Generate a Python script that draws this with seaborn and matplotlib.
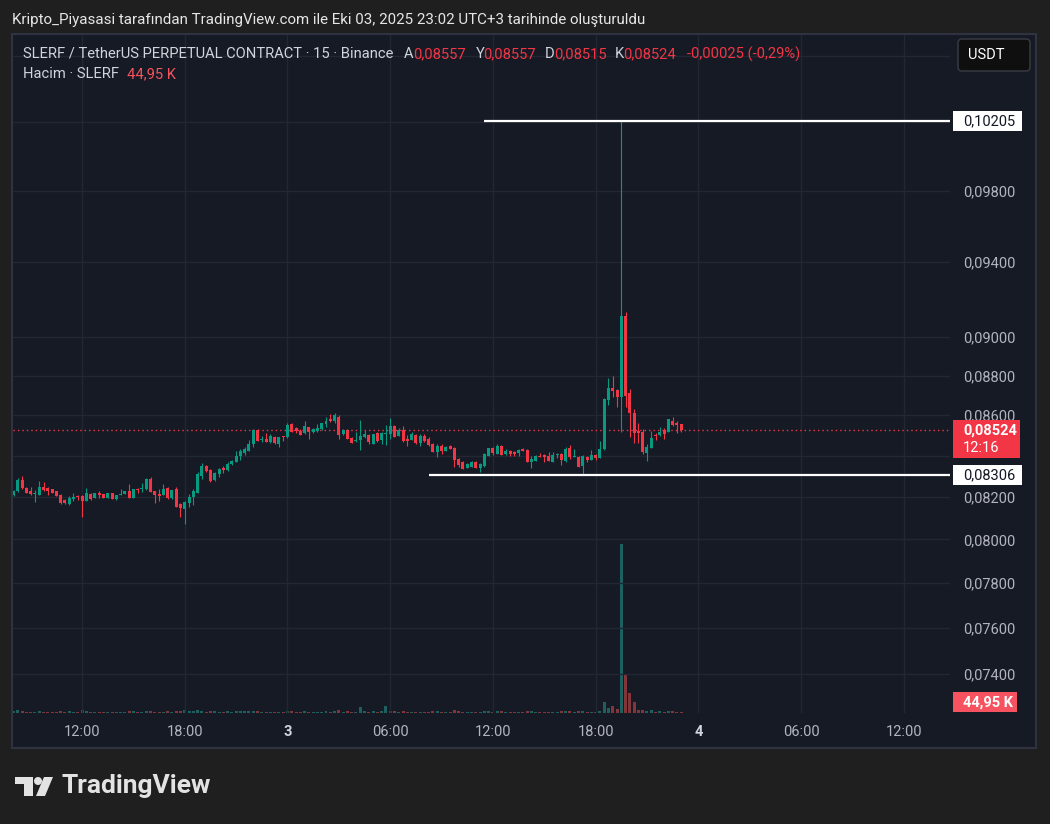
import matplotlib
matplotlib.use('Agg')
import matplotlib.pyplot as plt
import matplotlib.dates as mdates
import pandas as pd
import seaborn as sns
from matplotlib.patches import Rectangle, FancyBboxPatch, Circle, Polygon
from matplotlib.transforms import IdentityTransform
from matplotlib.ticker import FixedLocator, FixedFormatter, NullLocator

# --- Datos: SLERF/USDT perpetual, velas de 15 min (Binance) ---
first_bar = '2025-10-02 08:00'

opens = [
    0.08209, 0.08228, 0.08281, 0.08243, 0.08228, 0.08214, 0.08209, 0.08247, 0.08243, 0.08238,
    0.08228, 0.08209, 0.08185, 0.08166, 0.08190, 0.08204, 0.08204, 0.08180, 0.08214, 0.08195,
    0.08218, 0.08214, 0.08195, 0.08218, 0.08190, 0.08209, 0.08214, 0.08228, 0.08195, 0.08238,
    0.08238, 0.08238, 0.08286, 0.08228, 0.08214, 0.08209, 0.08243, 0.08195, 0.08238, 0.08166,
    0.08142, 0.08171, 0.08199, 0.08218, 0.08300, 0.08348, 0.08329, 0.08281, 0.08310, 0.08339,
    0.08329, 0.08358, 0.08368, 0.08397, 0.08412, 0.08422, 0.08456, 0.08525, 0.08476, 0.08481,
    0.08466, 0.08491, 0.08456, 0.08496, 0.08491, 0.08555, 0.08535, 0.08520, 0.08510, 0.08540,
    0.08515, 0.08520, 0.08530, 0.08555, 0.08580, 0.08570, 0.08590, 0.08505, 0.08525, 0.08486,
    0.08471, 0.08476, 0.08491, 0.08500, 0.08456, 0.08510, 0.08476, 0.08505, 0.08505, 0.08545,
    0.08496, 0.08525, 0.08481, 0.08476, 0.08500, 0.08461, 0.08496, 0.08481, 0.08456, 0.08417,
    0.08446, 0.08422, 0.08446, 0.08436, 0.08383, 0.08368, 0.08339, 0.08344, 0.08368, 0.08339,
    0.08348, 0.08397, 0.08436, 0.08407, 0.08446, 0.08407, 0.08422, 0.08417, 0.08412, 0.08431,
    0.08426, 0.08368, 0.08373, 0.08397, 0.08402, 0.08397, 0.08368, 0.08402, 0.08407, 0.08373,
    0.08436, 0.08392, 0.08392, 0.08348, 0.08392, 0.08378, 0.08402, 0.08388, 0.08431, 0.08675,
    0.08736, 0.08726, 0.08690, 0.09110, 0.08710, 0.08610, 0.08520, 0.08515, 0.08412, 0.08436,
    0.08500, 0.08500, 0.08525, 0.08515, 0.08570, 0.08560, 0.08557,
]
highs = [
    0.08233, 0.08291, 0.08300, 0.08247, 0.08247, 0.08233, 0.08276, 0.08272, 0.08247, 0.08238,
    0.08228, 0.08214, 0.08190, 0.08204, 0.08218, 0.08209, 0.08209, 0.08243, 0.08218, 0.08218,
    0.08228, 0.08214, 0.08218, 0.08218, 0.08209, 0.08238, 0.08228, 0.08262, 0.08238, 0.08243,
    0.08267, 0.08291, 0.08295, 0.08228, 0.08238, 0.08262, 0.08247, 0.08233, 0.08247, 0.08171,
    0.08180, 0.08214, 0.08238, 0.08320, 0.08363, 0.08353, 0.08334, 0.08320, 0.08339, 0.08348,
    0.08368, 0.08378, 0.08422, 0.08431, 0.08441, 0.08476, 0.08530, 0.08530, 0.08496, 0.08510,
    0.08505, 0.08496, 0.08491, 0.08496, 0.08560, 0.08560, 0.08540, 0.08530, 0.08570, 0.08540,
    0.08535, 0.08555, 0.08560, 0.08590, 0.08605, 0.08610, 0.08600, 0.08530, 0.08530, 0.08491,
    0.08515, 0.08575, 0.08525, 0.08505, 0.08505, 0.08515, 0.08515, 0.08550, 0.08585, 0.08550,
    0.08535, 0.08545, 0.08500, 0.08515, 0.08505, 0.08505, 0.08505, 0.08491, 0.08461, 0.08456,
    0.08456, 0.08446, 0.08451, 0.08441, 0.08388, 0.08373, 0.08363, 0.08373, 0.08373, 0.08363,
    0.08412, 0.08436, 0.08441, 0.08456, 0.08451, 0.08431, 0.08426, 0.08422, 0.08431, 0.08436,
    0.08431, 0.08397, 0.08402, 0.08412, 0.08407, 0.08417, 0.08417, 0.08412, 0.08412, 0.08441,
    0.08451, 0.08431, 0.08397, 0.08402, 0.08397, 0.08426, 0.08407, 0.08471, 0.08685, 0.08787,
    0.08797, 0.08731, 0.10205, 0.09131, 0.08731, 0.08630, 0.08560, 0.08530, 0.08456, 0.08520,
    0.08510, 0.08540, 0.08535, 0.08580, 0.08590, 0.08570, 0.08557,
]
lows = [
    0.08204, 0.08223, 0.08238, 0.08218, 0.08209, 0.08176, 0.08209, 0.08228, 0.08209, 0.08218,
    0.08204, 0.08166, 0.08166, 0.08161, 0.08180, 0.08185, 0.08105, 0.08180, 0.08185, 0.08195,
    0.08195, 0.08195, 0.08195, 0.08190, 0.08185, 0.08209, 0.08214, 0.08195, 0.08195, 0.08218,
    0.08223, 0.08233, 0.08223, 0.08171, 0.08180, 0.08209, 0.08190, 0.08190, 0.08152, 0.08105,
    0.08072, 0.08152, 0.08161, 0.08218, 0.08286, 0.08320, 0.08272, 0.08276, 0.08295, 0.08315,
    0.08324, 0.08353, 0.08368, 0.08378, 0.08402, 0.08422, 0.08441, 0.08471, 0.08466, 0.08466,
    0.08461, 0.08456, 0.08441, 0.08471, 0.08486, 0.08515, 0.08510, 0.08500, 0.08505, 0.08481,
    0.08510, 0.08515, 0.08525, 0.08540, 0.08565, 0.08560, 0.08481, 0.08500, 0.08481, 0.08461,
    0.08466, 0.08426, 0.08486, 0.08456, 0.08456, 0.08466, 0.08456, 0.08451, 0.08481, 0.08491,
    0.08496, 0.08466, 0.08446, 0.08476, 0.08456, 0.08446, 0.08466, 0.08446, 0.08417, 0.08392,
    0.08407, 0.08422, 0.08431, 0.08344, 0.08344, 0.08334, 0.08339, 0.08344, 0.08339, 0.08320,
    0.08344, 0.08397, 0.08402, 0.08407, 0.08402, 0.08402, 0.08397, 0.08397, 0.08397, 0.08422,
    0.08368, 0.08339, 0.08373, 0.08392, 0.08368, 0.08373, 0.08368, 0.08388, 0.08353, 0.08368,
    0.08383, 0.08392, 0.08344, 0.08306, 0.08368, 0.08378, 0.08378, 0.08388, 0.08426, 0.08650,
    0.08690, 0.08640, 0.08515, 0.08640, 0.08491, 0.08461, 0.08461, 0.08407, 0.08373, 0.08436,
    0.08476, 0.08496, 0.08481, 0.08515, 0.08545, 0.08510, 0.08515,
]
closes = [
    0.08228, 0.08281, 0.08243, 0.08218, 0.08214, 0.08218, 0.08247, 0.08233, 0.08228, 0.08218,
    0.08204, 0.08171, 0.08171, 0.08195, 0.08199, 0.08199, 0.08180, 0.08218, 0.08190, 0.08218,
    0.08209, 0.08195, 0.08218, 0.08190, 0.08209, 0.08216, 0.08228, 0.08195, 0.08238, 0.08233,
    0.08243, 0.08286, 0.08223, 0.08209, 0.08204, 0.08238, 0.08195, 0.08233, 0.08152, 0.08147,
    0.08176, 0.08199, 0.08228, 0.08310, 0.08348, 0.08324, 0.08276, 0.08315, 0.08334, 0.08329,
    0.08358, 0.08373, 0.08397, 0.08422, 0.08431, 0.08456, 0.08525, 0.08471, 0.08481, 0.08466,
    0.08496, 0.08461, 0.08491, 0.08491, 0.08550, 0.08515, 0.08520, 0.08500, 0.08545, 0.08515,
    0.08530, 0.08535, 0.08560, 0.08570, 0.08570, 0.08600, 0.08500, 0.08525, 0.08481, 0.08461,
    0.08476, 0.08496, 0.08505, 0.08466, 0.08505, 0.08471, 0.08510, 0.08510, 0.08545, 0.08491,
    0.08525, 0.08471, 0.08471, 0.08505, 0.08461, 0.08496, 0.08471, 0.08451, 0.08417, 0.08446,
    0.08422, 0.08441, 0.08431, 0.08378, 0.08353, 0.08334, 0.08358, 0.08368, 0.08339, 0.08358,
    0.08407, 0.08436, 0.08412, 0.08446, 0.08402, 0.08422, 0.08407, 0.08407, 0.08426, 0.08422,
    0.08368, 0.08383, 0.08397, 0.08392, 0.08392, 0.08373, 0.08402, 0.08407, 0.08378, 0.08431,
    0.08392, 0.08397, 0.08344, 0.08397, 0.08378, 0.08402, 0.08388, 0.08431, 0.08680, 0.08736,
    0.08721, 0.08690, 0.09110, 0.08695, 0.08610, 0.08510, 0.08510, 0.08417, 0.08441, 0.08486,
    0.08496, 0.08515, 0.08505, 0.08580, 0.08550, 0.08549, 0.08524,
]
# volumen en miles de SLERF
volumes_k = [
    95, 160, 110, 80, 90, 70, 120, 85, 90, 75,
    80, 130, 75, 110, 90, 60, 190, 120, 80, 70,
    75, 70, 80, 85, 70, 60, 80, 110, 100, 60,
    70, 120, 110, 90, 80, 85, 100, 90, 140, 110,
    160, 120, 110, 180, 150, 90, 110, 95, 90, 70,
    100, 80, 110, 100, 95, 120, 140, 110, 70, 60,
    80, 85, 70, 50, 120, 100, 80, 75, 110, 90,
    70, 80, 90, 100, 80, 110, 170, 90, 100, 80,
    70, 340, 110, 90, 100, 80, 120, 400, 150, 110,
    90, 110, 70, 80, 90, 80, 70, 90, 130, 110,
    80, 60, 60, 170, 120, 90, 70, 60, 80, 90,
    130, 110, 90, 100, 110, 70, 60, 60, 80, 50,
    140, 100, 80, 60, 70, 90, 80, 50, 120, 110,
    100, 60, 110, 150, 70, 80, 60, 110, 640, 300,
    400, 250, 10150, 2280, 1200, 640, 180, 200, 140, 160,
    90, 100, 80, 120, 110, 90, 44.95,
]

price_ticks = [0.074, 0.076, 0.078, 0.080, 0.082, 0.084, 0.086, 0.088, 0.090, 0.094, 0.098, 0.102, 0.106]
hidden_price_ticks = [0.084, 0.102, 0.106]
time_ticks = ['2025-10-02 12:00', '2025-10-02 18:00', '2025-10-03 00:00', '2025-10-03 06:00',
              '2025-10-03 12:00', '2025-10-03 18:00', '2025-10-04 00:00', '2025-10-04 06:00',
              '2025-10-04 12:00']
time_labels = ['12:00', '18:00', '3', '06:00', '12:00', '18:00', '4', '06:00', '12:00']

# lineas horizontales dibujadas por el usuario
hline_prices = [0.10205, 0.08306]
hline_starts = ['2025-10-03 11:30', '2025-10-03 08:15']

x_range = ['2025-10-02 07:58', '2025-10-04 14:42']
price_range = [0.07232, 0.10728]
countdown = '12:16'

# --- colores ---
BG = '#1f1f1f'
PANE = '#161a25'
GRID = '#232733'
UP = '#089981'
DOWN = '#f23645'
VOL_UP = '#1e605f'
VOL_DOWN = '#82363a'
TXT = '#b2b5be'
LEG = '#d1d4dc'
FS = 10.5

W, H = 1050, 824

sns.set_theme(style='dark', rc={'figure.facecolor': BG, 'axes.facecolor': 'none'})
plt.rcParams['font.family'] = ['Roboto', 'DejaVu Sans']


def fmt(v):
    return f'{v:.5f}'.replace('.', ',')


df = pd.DataFrame({'time': pd.date_range(first_bar, periods=len(closes), freq='15min'),
                   'open': opens, 'high': highs, 'low': lows, 'close': closes,
                   'volume': volumes_k})
df['x'] = mdates.date2num(df['time'])
df['up'] = df['close'] >= df['open']
bar_w = 0.7 / (24 * 4)

fig = plt.figure(figsize=(W / 100, H / 100), dpi=100)
fig.add_artist(Rectangle((12 / W, 1 - 748 / H), (1036 - 12) / W, (748 - 34) / H,
                         transform=fig.transFigure, fc=PANE, ec='#2f3240', lw=1.5, zorder=0))

rect = [13 / W, 1 - 713 / H, (950 - 13) / W, (713 - 35) / H]
ax_vol = fig.add_axes(rect)
ax = fig.add_axes(rect, sharex=ax_vol)
for a in (ax_vol, ax):
    a.set_facecolor('none')
    for s in a.spines.values():
        s.set_visible(False)

# volumen
ax_vol.bar(df['x'], df['volume'], width=bar_w, color=[VOL_UP if u else VOL_DOWN for u in df['up']], lw=0)
ax_vol.set_ylim(0, df['volume'].max() / 0.249)
ax_vol.set_yticks([])
ax_vol.tick_params(axis='x', labelbottom=False, length=0)

# velas
colors = [UP if u else DOWN for u in df['up']]
ax.set_yscale('log')
ax.vlines(df['x'], df['low'], df['high'], colors=colors, lw=0.8, zorder=3)
body_lo = df[['open', 'close']].min(axis=1)
body_h = (df['close'] - df['open']).abs().clip(lower=0.00004)
ax.bar(df['x'], body_h, bottom=body_lo, width=bar_w, color=colors, lw=0, zorder=4)

xlim = mdates.date2num(pd.to_datetime(x_range))
ax.set_xlim(*xlim)
ax.set_ylim(*price_range)

ax.yaxis.tick_right()
ax.yaxis.set_major_locator(FixedLocator(price_ticks))
ax.yaxis.set_major_formatter(FixedFormatter(['' if t in hidden_price_ticks else fmt(t) for t in price_ticks]))
ax.yaxis.set_minor_locator(NullLocator())
ax.tick_params(axis='y', length=0, pad=9.4, labelsize=FS, labelcolor=TXT)

ax.xaxis.set_major_locator(FixedLocator(mdates.date2num(pd.to_datetime(time_ticks))))
ax.xaxis.set_major_formatter(FixedFormatter(time_labels))
ax.xaxis.set_minor_locator(NullLocator())
ax.tick_params(axis='x', length=0, pad=9, labelsize=FS, labelcolor=TXT)
for lab in ax.get_xticklabels():
    if len(lab.get_text()) == 1:
        lab.set_fontweight('bold')
        lab.set_color(LEG)

ax.grid(True, color=GRID, lw=1, zorder=0)
ax.set_axisbelow(True)

# precio actual y lineas horizontales
last = df.iloc[-1]
ax.axhline(last['close'], color=DOWN, lw=1.0, ls=(0, (1, 2.2)), zorder=2)
for p, st in zip(hline_prices, hline_starts):
    ax.hlines(p, mdates.date2num(pd.Timestamp(st)), xlim[1], color='white', lw=1.6, zorder=5)


def tag(axis, value, text, fc, tc, width, sub=None, shift=0, bold=False):
    y = axis.transData.transform((xlim[0], value))[1] + shift
    h = 20 if sub is None else 38
    fig.add_artist(Rectangle((953, y + 10 - h), width, h, transform=IdentityTransform(),
                             fc=fc, ec='none', zorder=6))
    fig.text(963 / W, y / H, text, color=tc, va='center', ha='left', fontsize=FS,
             fontweight='bold' if bold else 'normal', zorder=7)
    if sub:
        fig.text(963 / W, (y - 18) / H, sub, color=tc, va='center', ha='left', fontsize=FS, zorder=7)


for p in hline_prices:
    tag(ax, p, fmt(p), 'white', '#131722', 69)
tag(ax, last['close'], fmt(last['close']), DOWN, 'white', 67, sub=countdown, bold=True)
vol_txt = f"{last['volume']:.2f}".replace('.', ',') + ' K'
tag(ax_vol, last['volume'], vol_txt, '#f7525f', 'white', 64, shift=10, bold=True)

# cabecera
def ftext(x, y, s, **kw):
    fig.text(x / W, 1 - y / H, s, va='center', ha='left', **kw)


ftext(12, 20, 'Kripto_Piyasasi tarafından TradingView.com ile Eki 03, 2025 23:02 UTC+3 tarihinde oluşturuldu',
      color='#e6e6e6', fontsize=10.9)
chg = last['close'] - df['close'].iloc[-2]
pct = chg / df['close'].iloc[-2] * 100
legend_parts = [
    (23, 'SLERF / TetherUS PERPETUAL CONTRACT · 15 · Binance', LEG),
    (404, 'A', LEG), (413, fmt(last['open']), DOWN),
    (476, 'Y', LEG), (483, fmt(last['high']), DOWN),
    (545, 'D', LEG), (554, fmt(last['low']), DOWN),
    (615, 'K', LEG), (623, fmt(last['close']), DOWN),
    (687, f"{fmt(chg)} ({pct:.2f}%)".replace('.', ','), DOWN),
]
for x, s, c in legend_parts:
    ftext(x, 54, s, color=c, fontsize=10.6)
ftext(23, 74, 'Hacim · SLERF', color=LEG, fontsize=10.6)
ftext(127, 74, vol_txt, color='#f7525f', fontsize=10.6)

fig.add_artist(FancyBboxPatch((958, H - 71), 72, 32, boxstyle='round,pad=0,rounding_size=4',
                              transform=IdentityTransform(), fc='#0f0f0f', ec='#3a3d45', lw=1, zorder=6))
ftext(968, 55, 'USDT', color='white', fontsize=FS, zorder=7)

# logo TradingView
LOGO = '#e3e3e3'
fig.add_artist(Polygon([(15, H - 777), (33, H - 777), (33, H - 796), (24, H - 796), (24, H - 784), (15, H - 784)],
                       closed=True, transform=IdentityTransform(), fc=LOGO, ec='none'))
fig.add_artist(Circle((38, H - 781), 4, transform=IdentityTransform(), fc=LOGO, ec='none'))
fig.add_artist(Polygon([(44, H - 777), (53, H - 777), (45, H - 796), (36, H - 796)],
                       closed=True, transform=IdentityTransform(), fc=LOGO, ec='none'))
ftext(62, 786, 'TradingView', color=LOGO, fontsize=19, fontweight='bold')

fig.savefig('out.png', dpi=100, facecolor=BG)
